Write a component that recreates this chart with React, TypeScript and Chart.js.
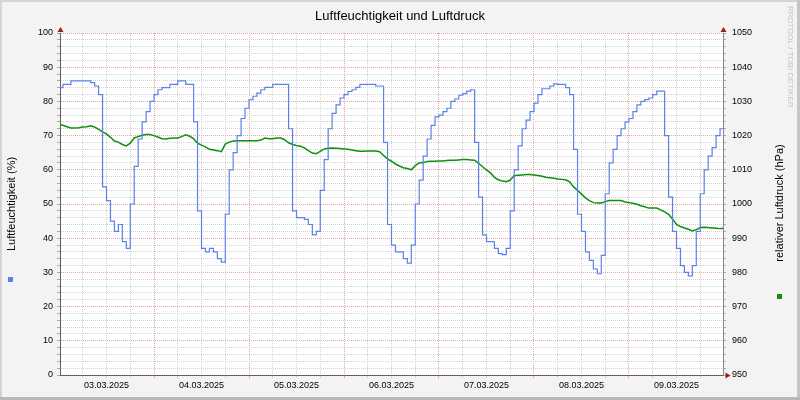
import React, { useEffect, useRef } from "react";
import Chart from "chart.js/auto";

const TITLE = "Luftfeuchtigkeit und Luftdruck";
const LEFT_TITLE = "Luftfeuchtigkeit (%)";
const RIGHT_TITLE = "relativer Luftdruck (hPa)";
const WATERMARK = "RRDTOOL / TOBI OETIKER";

// one label per day, shown at noon
const DAY_LABELS = [
  "03.03.2025",
  "04.03.2025",
  "05.03.2025",
  "06.03.2025",
  "07.03.2025",
  "08.03.2025",
  "09.03.2025",
];

// hours since 03.03.2025 00:00
const X_MIN = 0.25;
const X_MAX = 167.75;
const TICK_HOURS = 6;

const HUM_MIN = 0;
const HUM_MAX = 100;
const HPA_MIN = 950;
const HPA_MAX = 1050;
const Y_STEP = 2;

// relative humidity (%), one value per hour
const humidityDay1 = [84, 85, 85, 86, 86, 86, 86, 86, 85.5, 84.5, 82, 55, 51, 45, 42, 44, 39, 37, 50, 61, 69, 74, 77, 80];
const humidityDay2 = [82, 83.4, 84, 84, 85, 85, 86, 86, 85, 85, 74, 48, 37, 36, 37, 36, 34, 33, 47, 60, 65, 70, 75, 78];
const humidityDay3 = [80.5, 81.5, 82.4, 83.4, 84.1, 84.1, 85, 85, 85, 85, 72, 48, 46, 46, 45.5, 44, 41, 42, 54, 63, 72, 76.5, 79, 81];
const humidityDay4 = [82, 82.9, 83.4, 84.1, 85, 85, 85, 85, 84.5, 84.5, 68, 44, 38, 36, 36, 34, 32.7, 38, 50, 57, 64, 69, 73, 75.5];
const humidityDay5 = [76, 77, 78, 80, 80.7, 81.8, 82.3, 83, 83.4, 68, 52, 41, 39, 39, 37, 35.5, 35.2, 37, 48, 60, 67, 72, 74.5, 77];
const humidityDay6 = [79.5, 82, 83.7, 83.7, 84.5, 85.1, 85, 85, 84, 82, 66, 47, 42, 36, 33.5, 31, 29.6, 35, 53, 62, 66, 70, 72, 74];
const humidityDay7 = [75, 77, 79, 80, 80.5, 81, 82, 83, 83, 70, 52, 42, 37, 32, 30, 29, 32, 42, 53, 60, 64, 66.5, 70, 72];

// relative air pressure (hPa), one value per hour
const pressureDay1 = [1023.2, 1023.0, 1022.6, 1022.2, 1022.2, 1022.3, 1022.5, 1022.6, 1022.9, 1022.5, 1021.8, 1021.1, 1020.5, 1019.5, 1018.4, 1018.1, 1017.4, 1017.0, 1017.8, 1019.3, 1019.7, 1020.1, 1020.3, 1020.3];
const pressureDay2 = [1020.0, 1019.6, 1019.1, 1019.0, 1019.2, 1019.3, 1019.3, 1019.7, 1020.2, 1019.8, 1019.1, 1017.8, 1017.2, 1016.7, 1016.0, 1015.8, 1015.6, 1015.3, 1017.5, 1018.1, 1018.4, 1018.5, 1018.5, 1018.5];
const pressureDay3 = [1018.5, 1018.5, 1018.5, 1018.7, 1019.3, 1019.1, 1019.1, 1019.3, 1019.3, 1018.8, 1017.9, 1017.4, 1017.1, 1016.9, 1016.4, 1015.6, 1014.9, 1014.7, 1015.4, 1016.1, 1016.3, 1016.4, 1016.3, 1016.2];
const pressureDay4 = [1016.1, 1016.0, 1015.8, 1015.6, 1015.4, 1015.4, 1015.5, 1015.5, 1015.5, 1015.3, 1014.2, 1013.2, 1012.5, 1011.7, 1011.1, 1010.6, 1010.4, 1010.0, 1011.2, 1012.0, 1012.1, 1012.4, 1012.5, 1012.5];
const pressureDay5 = [1012.6, 1012.6, 1012.7, 1012.8, 1012.8, 1012.9, 1013.0, 1013.0, 1012.9, 1012.8, 1011.9, 1010.9, 1010.0, 1009.1, 1007.8, 1007.1, 1006.7, 1006.5, 1007.0, 1008.3, 1008.4, 1008.5, 1008.6, 1008.6];
const pressureDay6 = [1008.5, 1008.3, 1008.1, 1007.8, 1007.7, 1007.5, 1007.3, 1007.2, 1007.1, 1006.5, 1005.0, 1004.0, 1002.9, 1001.8, 1001.0, 1000.4, 1000.3, 1000.3, 1000.7, 1001.0, 1001.0, 1001.0, 1001.0, 1000.6];
const pressureDay7 = [1000.4, 1000.2, 999.9, 999.5, 999.2, 998.8, 998.8, 998.8, 998.3, 997.7, 997.0, 995.6, 994.0, 993.4, 993.0, 992.6, 992.1, 992.5, 993.1, 993.2, 993.1, 993.0, 992.9, 992.8];

const HUM_COLOR = "#5b82e8";
const HPA_COLOR = "#0f8f0f";
const MAJOR_GRID = "#e6a3a3";
const MINOR_GRID = "#d2d2d2";
const FONT = "'Liberation Sans', Arial, sans-serif";

const toPoints = (days: number[][]) => {
  const pts = days.flat().map((y, h) => ({ x: h, y }));
  // hold the last reading until the end of the graph
  pts.push({ x: X_MAX, y: pts[pts.length - 1].y });
  return pts;
};

const buildTicks = (min: number, max: number, step: number) => {
  const out: { value: number }[] = [];
  for (let v = min; v <= max + 1e-9; v += step) out.push({ value: v });
  return out;
};

const rrdFrame = {
  id: "rrdFrame",
  beforeDraw(chart: any) {
    const { ctx, width, height, chartArea: a } = chart;
    ctx.save();
    ctx.fillStyle = "#f3f3f3";
    ctx.fillRect(0, 0, width, height);
    ctx.fillStyle = "#d4d4d4";
    ctx.fillRect(0, 0, width, 2);
    ctx.fillRect(0, 0, 2, height);
    ctx.fillStyle = "#c6c6c6";
    ctx.fillRect(width - 3, 0, 3, height);
    ctx.fillStyle = "#b8b8b8";
    ctx.fillRect(0, height - 3, width, 3);
    ctx.fillStyle = "#ffffff";
    ctx.fillRect(a.left, a.top, a.right - a.left, a.bottom - a.top);
    ctx.restore();
  },
  afterDraw(chart: any) {
    const { ctx, chartArea: a } = chart;
    ctx.save();
    ctx.fillStyle = "#000";
    ctx.textAlign = "center";
    ctx.textBaseline = "middle";
    ctx.font = `13px ${FONT}`;
    ctx.fillText(TITLE, 400, 16);

    ctx.font = `11px ${FONT}`;
    ctx.save();
    ctx.translate(12, 204);
    ctx.rotate(-Math.PI / 2);
    ctx.fillText(LEFT_TITLE, 0, 0);
    ctx.restore();
    ctx.save();
    ctx.translate(780, 203);
    ctx.rotate(-Math.PI / 2);
    ctx.fillText(RIGHT_TITLE, 0, 0);
    ctx.restore();

    // legend markers
    ctx.fillStyle = HUM_COLOR;
    ctx.fillRect(8, 277, 5, 5);
    ctx.fillStyle = HPA_COLOR;
    ctx.fillRect(777, 294, 5, 5);

    // watermark
    ctx.save();
    ctx.translate(790, 6);
    ctx.rotate(Math.PI / 2);
    ctx.textAlign = "left";
    ctx.fillStyle = "#c4c4c4";
    ctx.font = `8px ${FONT}`;
    ctx.fillText(WATERMARK, 0, 0);
    ctx.restore();

    // axis arrows
    ctx.fillStyle = "#9c1c1c";
    const lx = Math.round(a.left) + 0.5;
    const rx = Math.round(a.right) + 0.5;
    const by = Math.round(a.bottom) + 0.5;
    ctx.beginPath();
    ctx.moveTo(lx, a.top - 6);
    ctx.lineTo(lx - 3, a.top - 1);
    ctx.lineTo(lx + 3, a.top - 1);
    ctx.fill();
    ctx.beginPath();
    ctx.moveTo(rx, a.top - 6);
    ctx.lineTo(rx - 3, a.top - 1);
    ctx.lineTo(rx + 3, a.top - 1);
    ctx.fill();
    ctx.beginPath();
    ctx.moveTo(rx + 7, by);
    ctx.lineTo(rx + 2, by - 3);
    ctx.lineTo(rx + 2, by + 3);
    ctx.fill();
    ctx.restore();
  },
};

const gridColor = (major: number) => (c: any) =>
  c.tick && Math.abs(c.tick.value % major) < 1e-6 ? MAJOR_GRID : MINOR_GRID;

const App: React.FC = () => {
  const canvasRef = useRef<HTMLCanvasElement>(null);
  const chartInstance = useRef<Chart | null>(null);

  useEffect(() => {
    document.body.style.margin = "0";
    if (!canvasRef.current) return;
    const ctx = canvasRef.current.getContext("2d");
    if (!ctx) return;

    if (chartInstance.current) {
      chartInstance.current.destroy();
    }

    const tickFont = { family: FONT, size: 9 };

    chartInstance.current = new Chart(ctx, {
      type: "line",
      data: {
        datasets: [
          {
            label: "Luftfeuchtigkeit",
            data: toPoints([humidityDay1, humidityDay2, humidityDay3, humidityDay4, humidityDay5, humidityDay6, humidityDay7]),
            borderColor: HUM_COLOR,
            borderWidth: 1.2,
            pointRadius: 0,
            stepped: true,
            yAxisID: "y",
          },
          {
            label: "relativer Luftdruck",
            data: toPoints([pressureDay1, pressureDay2, pressureDay3, pressureDay4, pressureDay5, pressureDay6, pressureDay7]),
            borderColor: HPA_COLOR,
            borderWidth: 1.5,
            pointRadius: 0,
            tension: 0,
            yAxisID: "y2",
          },
        ],
      },
      options: {
        animation: false,
        responsive: false,
        maintainAspectRatio: false,
        layout: { padding: { top: 33, left: 0, right: 0, bottom: 0 } },
        plugins: {
          legend: { display: false },
          tooltip: { enabled: false },
          title: { display: false },
        },
        scales: {
          x: {
            type: "linear",
            min: X_MIN,
            max: X_MAX,
            afterBuildTicks: (s: any) => {
              s.ticks = buildTicks(TICK_HOURS, X_MAX, TICK_HOURS);
            },
            afterFit: (s: any) => {
              s.height = 25;
            },
            grid: {
              color: gridColor(24),
              tickColor: gridColor(24),
              tickLength: 3,
            },
            border: { color: "#6b5c5c", dash: [1, 1] },
            ticks: {
              autoSkip: false,
              maxRotation: 0,
              padding: 2,
              color: "#000",
              font: tickFont,
              callback: (v: any) => {
                const h = Number(v);
                return h % 24 === 12 ? DAY_LABELS[Math.floor(h / 24)] : "";
              },
            },
          },
          y: {
            type: "linear",
            position: "left",
            min: HUM_MIN,
            max: HUM_MAX,
            afterBuildTicks: (s: any) => {
              s.ticks = buildTicks(HUM_MIN, HUM_MAX, Y_STEP);
            },
            afterFit: (s: any) => {
              s.width = 60;
            },
            grid: {
              color: gridColor(10),
              tickColor: "#aaa",
              tickLength: 3,
            },
            border: { color: "#6b5c5c", dash: [1, 1] },
            ticks: {
              autoSkip: false,
              padding: 4,
              color: "#000",
              font: tickFont,
              callback: (v: any) => (Number(v) % 10 === 0 ? String(v) : ""),
            },
          },
          y2: {
            type: "linear",
            position: "right",
            min: HPA_MIN,
            max: HPA_MAX,
            afterBuildTicks: (s: any) => {
              s.ticks = buildTicks(HPA_MIN, HPA_MAX, Y_STEP);
            },
            afterFit: (s: any) => {
              s.width = 77;
            },
            grid: {
              drawOnChartArea: false,
              tickColor: "#aaa",
              tickLength: 3,
            },
            border: { color: "#888" },
            ticks: {
              autoSkip: false,
              padding: 6,
              color: "#000",
              font: tickFont,
              callback: (v: any) => (Number(v) % 10 === 0 ? String(v) : ""),
            },
          },
        },
      },
      plugins: [rrdFrame],
    });

    return () => {
      if (chartInstance.current) {
        chartInstance.current.destroy();
        chartInstance.current = null;
      }
    };
  }, []);

  return (
    <div style={{ width: 800, height: 400 }}>
      <canvas ref={canvasRef} width={800} height={400}></canvas>
    </div>
  );
};

export default App;
